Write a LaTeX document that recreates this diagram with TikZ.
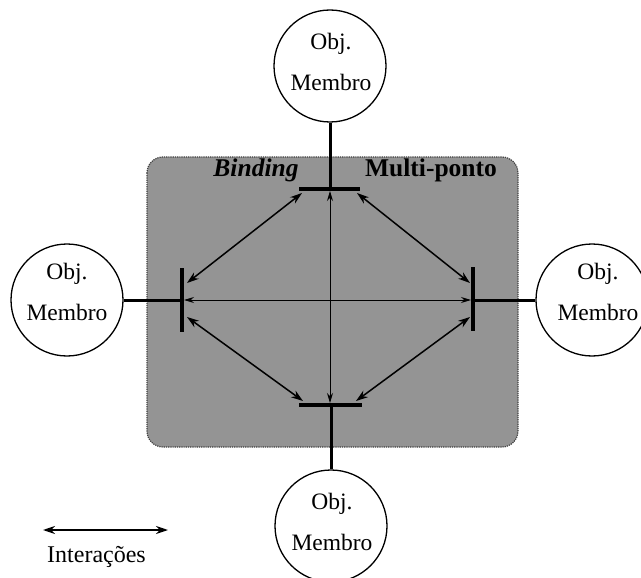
\documentclass[tikz,border=0pt]{standalone}
\usepackage{fontspec}
\setmainfont{Liberation Serif}
\usetikzlibrary{arrows.meta}
\begin{document}
\begin{tikzpicture}[x=1pt,y=-1pt,
  memb/.style={circle, draw, line width=1.3pt, minimum size=112pt, inner sep=0pt},
  memtxt/.style={align=center, font=\fontsize{23.5}{41}\selectfont},
  barline/.style={line width=4pt},
  linkline/.style={line width=3pt},
  inter/.style={line width=1.5pt, {Stealth[length=12pt,width=8pt]}-{Stealth[length=12pt,width=8pt]}},
  axisline/.style={line width=1pt, {Stealth[length=10pt,width=6pt]}-{Stealth[length=10pt,width=6pt]}},
  lbl/.style={font=\fontsize{25.5}{28}\selectfont\bfseries, anchor=base}
]
\clip (0,0) rectangle (641,578);
\fill[white] (0,0) rectangle (641,578);
% shaded binding region
\fill[black!42, rounded corners=16pt] (147,157) rectangle (518,447);
\draw[black!75, line width=1.2pt, densely dotted, rounded corners=16pt] (147,157) rectangle (518,447);
\node[lbl] (lb) at (256,177) {\itshape Binding};
\node[lbl] (lm) at (431,177) {Multi-ponto};

% member objects
\node[memb] (T) at (330,66) {};
\node[memb] (L) at (67,300) {};
\node[memb] (R) at (592,300) {};
\node[memb] (B) at (331,526) {};
\node[memtxt] (tT) at (331,62) {Obj.\\Membro};
\node[memtxt] (tL) at (67,292) {Obj.\\Membro};
\node[memtxt] (tR) at (598,292) {Obj.\\Membro};
\node[memtxt] (tB) at (332,522) {Obj.\\Membro};

% bars (ports)
\coordinate (tb) at (330,189);
\coordinate (tbl) at (299,189);
\coordinate (tbr) at (360,189);
\coordinate (bb) at (331,405);
\coordinate (bbl) at (299,405);
\coordinate (bbr) at (362,405);
\coordinate (lb0) at (182,300);
\coordinate (lbt) at (182,268);
\coordinate (lbb) at (182,332);
\coordinate (rb0) at (473,300);
\coordinate (rbt) at (473,267);
\coordinate (rbb) at (473,331);
\draw[barline] (tbl) -- (tbr);
\draw[barline] (bbl) -- (bbr);
\draw[barline] (lbt) -- (lbb);
\draw[barline] (rbt) -- (rbb);

% links to objects
\draw[linkline] (T.south) -- (tb);
\draw[linkline] (bb) -- (B.north);
\draw[linkline] (L.east) -- (lb0);
\draw[linkline] (rb0) -- (R.west);

% interactions
\coordinate (a1) at (302,193);
\coordinate (a2) at (187,283);
\coordinate (a3) at (357,193);
\coordinate (a4) at (470,283);
\coordinate (a5) at (187,317);
\coordinate (a6) at (303,401);
\coordinate (a7) at (470,317);
\coordinate (a8) at (356,401);
\draw[inter] (a1) -- (a2);
\draw[inter] (a3) -- (a4);
\draw[inter] (a5) -- (a6);
\draw[inter] (a7) -- (a8);
\coordinate (v1) at (330,191);
\coordinate (v2) at (330,403);
\coordinate (h1) at (184,300);
\coordinate (h2) at (471,300);
\draw[axisline] (v1) -- (v2);
\draw[axisline] (h1) -- (h2);

% legend
\coordinate (g1) at (43,530);
\coordinate (g2) at (168,530);
\draw[inter] (g1) -- (g2);
\node[font=\fontsize{24}{26}\selectfont, anchor=base west, inner sep=0pt] (leg) at (47,562) {Interações};
\end{tikzpicture}
\end{document}
